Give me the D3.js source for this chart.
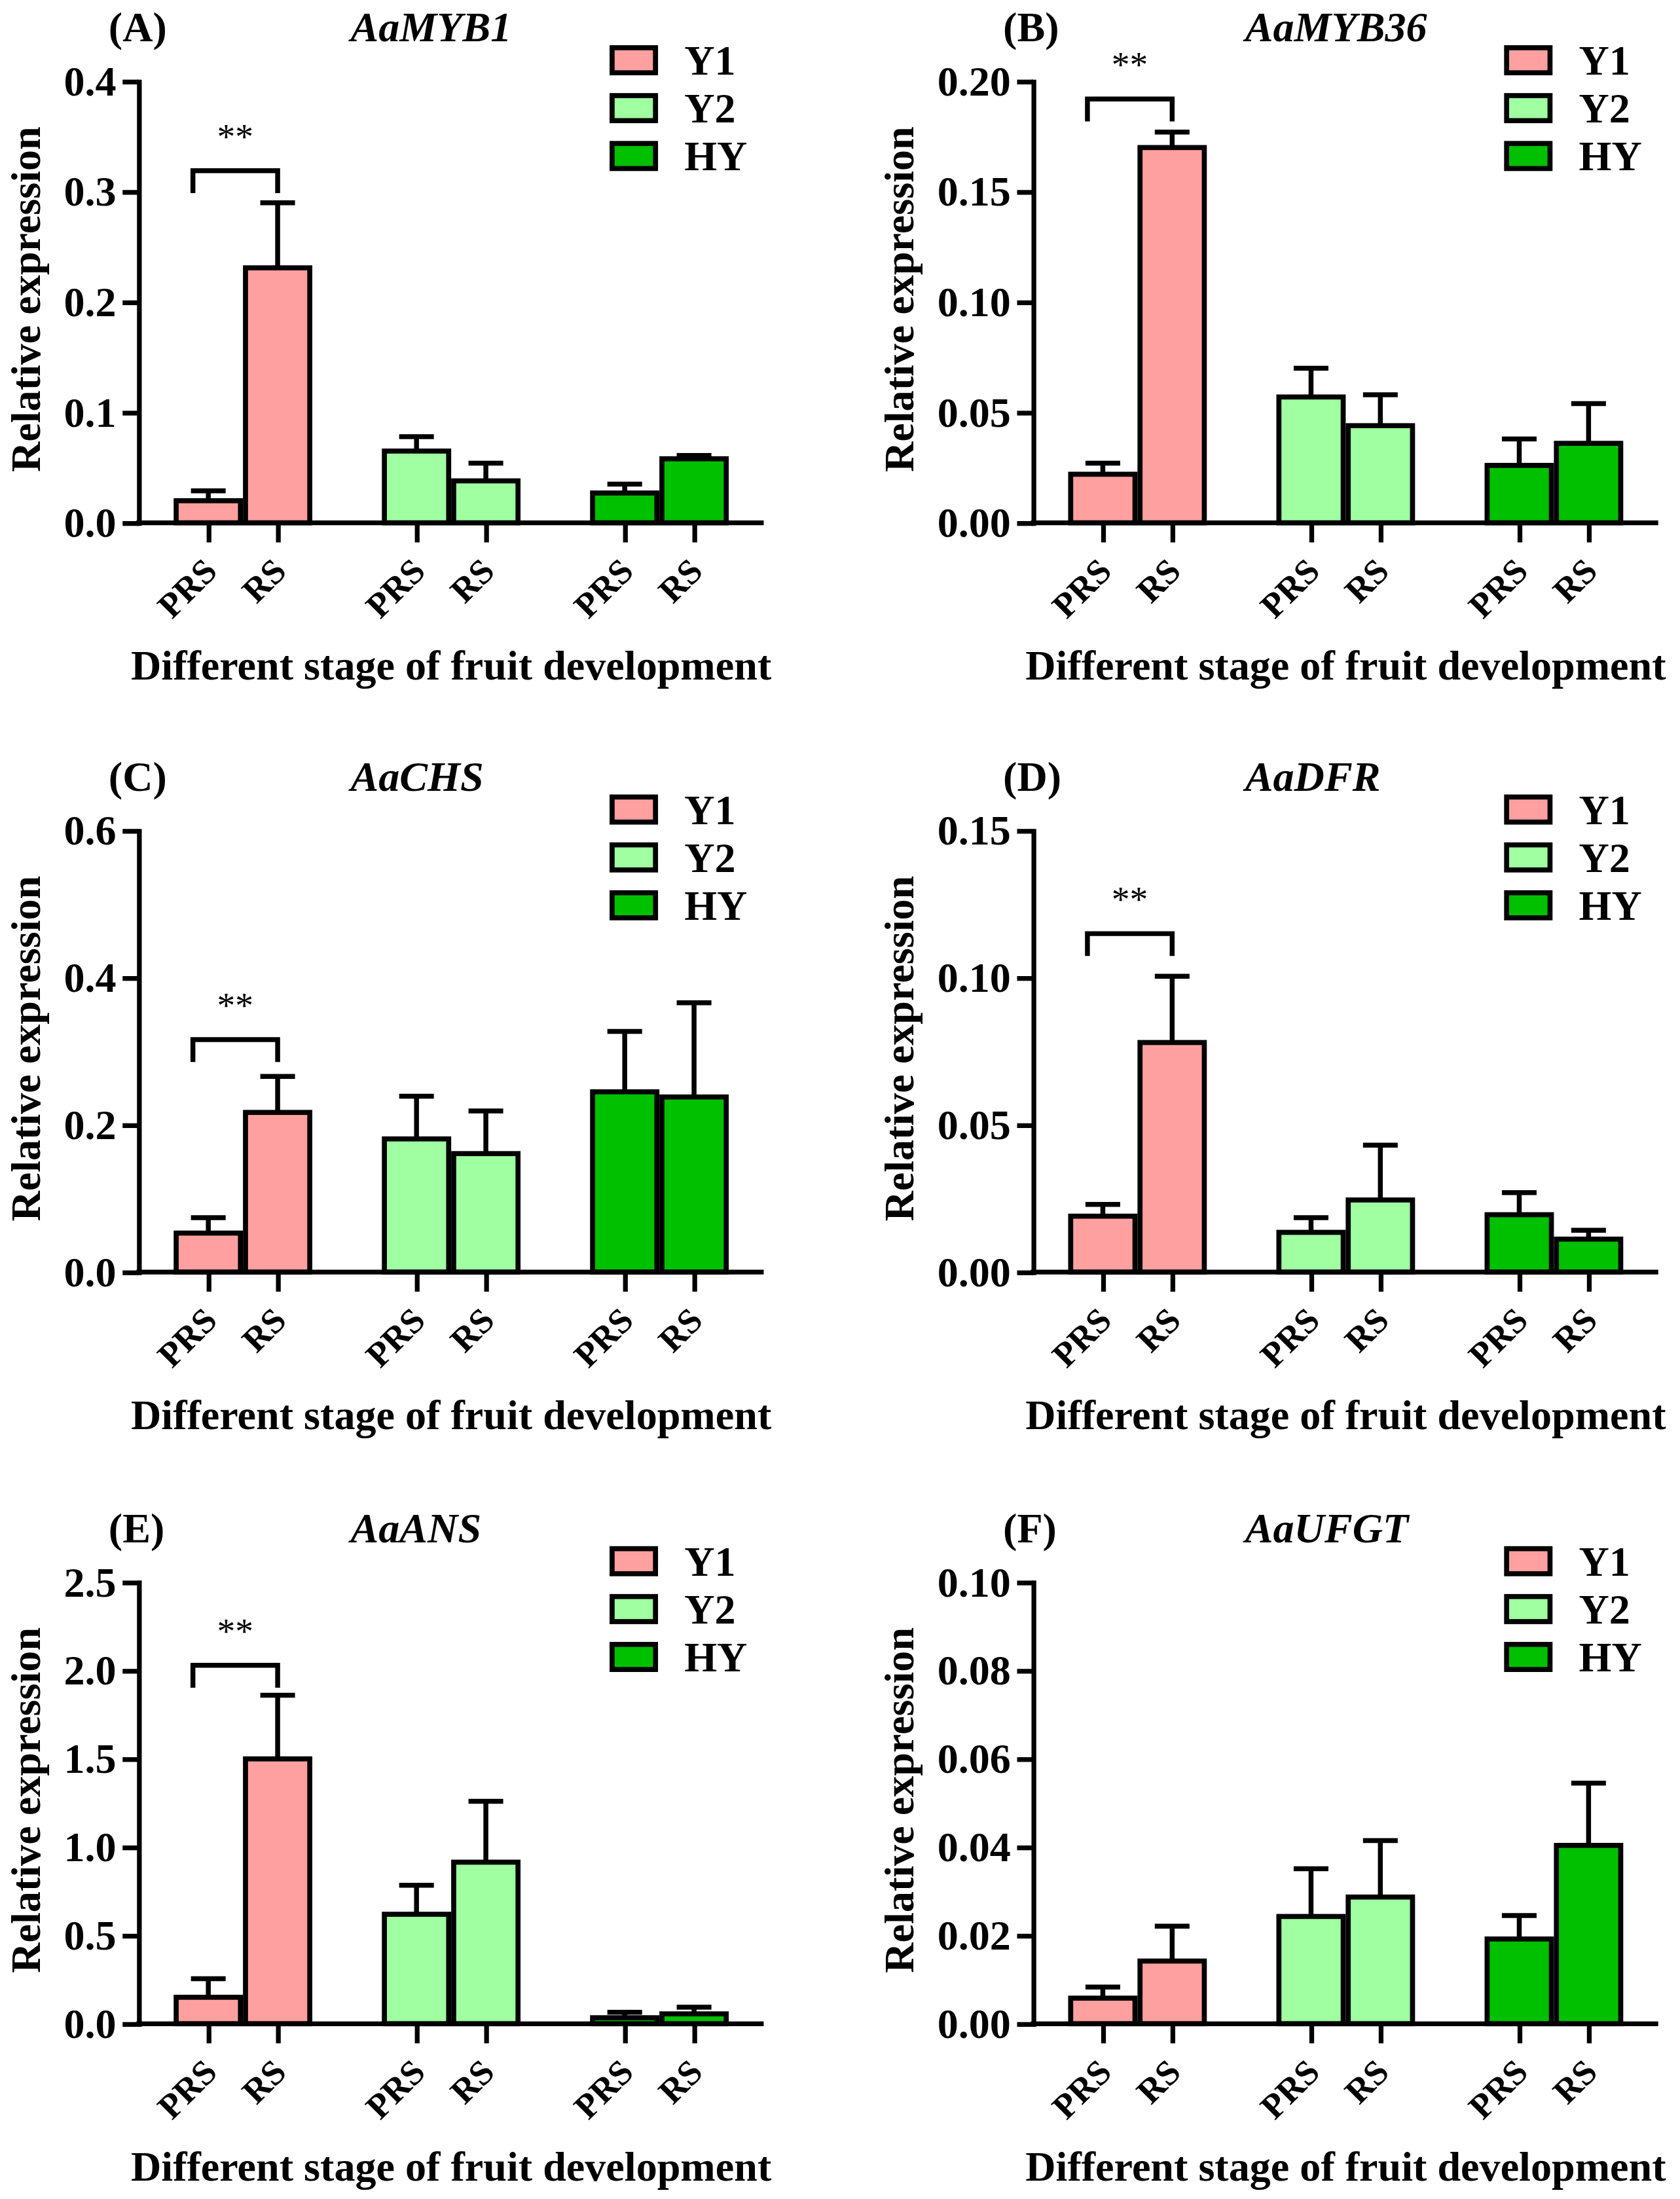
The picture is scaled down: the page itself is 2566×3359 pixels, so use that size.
<!DOCTYPE html>
<html>
<head>
<meta charset="utf-8">
<script src="https://cdn.jsdelivr.net/npm/d3@7"></script>
<style>
  body { margin: 0; background: #fff; }
  svg { display: block; }
</style>
</head>
<body>
<div id="chart"></div>
<script>
// categories
const cultivars = ["Y1", "Y2", "HY"];
const stages = ["PRS", "RS"];
const panelTags = ["(A)", "(B)", "(C)", "(D)", "(E)", "(F)"];
const genes = ["AaMYB1", "AaMYB36", "AaCHS", "AaDFR", "AaANS", "AaUFGT"];

// values, order: Y1-PRS, Y1-RS, Y2-PRS, Y2-RS, HY-PRS, HY-RS
const meanMYB1  = [0.020, 0.231, 0.065, 0.038, 0.027, 0.058];
const sdMYB1    = [0.009, 0.059, 0.013, 0.016, 0.008, 0.003];
const meanMYB36 = [0.022, 0.170, 0.057, 0.044, 0.026, 0.036];
const sdMYB36   = [0.005, 0.007, 0.013, 0.014, 0.012, 0.018];
const meanCHS   = [0.053, 0.217, 0.181, 0.161, 0.245, 0.238];
const sdCHS     = [0.021, 0.049, 0.058, 0.058, 0.082, 0.128];
const meanDFR   = [0.019, 0.078, 0.0135, 0.0245, 0.0195, 0.0112];
const sdDFR     = [0.004, 0.0225, 0.005, 0.0186, 0.0075, 0.003];
const meanANS   = [0.150, 1.500, 0.620, 0.915, 0.034, 0.056];
const sdANS     = [0.105, 0.360, 0.164, 0.345, 0.031, 0.038];
const meanUFGT  = [0.0058, 0.0142, 0.0243, 0.0287, 0.0192, 0.0404];
const sdUFGT    = [0.0025, 0.0079, 0.0108, 0.0128, 0.0053, 0.0141];

// y axes
const yMax = [0.4, 0.2, 0.6, 0.15, 2.5, 0.1];
const yStep = [0.1, 0.05, 0.2, 0.05, 0.5, 0.02];
const yDecimals = [1, 2, 1, 2, 1, 2];

// significance bracket between Y1 PRS and Y1 RS (height in data units)
const sigLevel = [0.319, 0.192, 0.316, 0.115, 2.03, null];
const sigMark = "**";

const means = [meanMYB1, meanMYB36, meanCHS, meanDFR, meanANS, meanUFGT];
const sds = [sdMYB1, sdMYB36, sdCHS, sdDFR, sdANS, sdUFGT];

const colors = {Y1: "#FFA0A0", Y2: "#A0FFA0", HY: "#00C000"};
const serif = '"Liberation Serif", "Times New Roman", serif';

const W = 1200, H = 1571;
const colX = [99, 738];
const rowY = [58.1, 593.4, 1130.4];
const plotW = 446.5, plotH = 315.4;

const svg = d3.select("#chart").append("svg")
    .attr("width", 2566)
    .attr("height", 3359)
    .attr("viewBox", `0 0 ${W} ${H}`)
    .style("background", "#fff");

genes.forEach((gene, i) => {
    const g = svg.append("g")
        .attr("transform", `translate(${colX[i % 2]},${rowY[Math.floor(i / 2)]})`);

    const x0 = d3.scaleBand().domain(cultivars).range([0, plotW])
        .paddingInner(0.334).paddingOuter(0.168);
    const x1 = d3.scaleBand().domain(stages).range([0, x0.bandwidth()]);
    const y = d3.scaleLinear().domain([0, yMax[i]]).range([plotH, 0]);

    const rows = cultivars.flatMap((c, ci) => stages.map((s, si) => ({
        c, s, key: c + "|" + s,
        v: means[i][ci * 2 + si],
        e: sds[i][ci * 2 + si]
    })));
    const cx = d => x0(d.c) + x1(d.s) + x1.bandwidth() / 2;

    //error bars (upper only)
    const eb = g.append("g").attr("stroke", "#000").attr("stroke-width", 3.5);
    eb.selectAll("line.v").data(rows).join("line")
        .attr("x1", cx).attr("x2", cx)
        .attr("y1", d => y(d.v)).attr("y2", d => y(d.v + d.e));
    eb.selectAll("line.cap").data(rows).join("line")
        .attr("x1", d => cx(d) - 12.4).attr("x2", d => cx(d) + 12.4)
        .attr("y1", d => y(d.v + d.e)).attr("y2", d => y(d.v + d.e));

    //bars
    const sw = 3.6;
    g.append("g").selectAll("rect").data(rows).join("rect")
        .attr("x", d => x0(d.c) + x1(d.s) + sw / 2)
        .attr("width", x1.bandwidth() - sw)
        .attr("y", d => y(d.v))
        .attr("height", d => y(0) - y(d.v))
        .attr("fill", d => colors[d.c])
        .attr("stroke", "#000")
        .attr("stroke-width", sw);

    //y axis
    const yAxis = g.append("g")
        .call(d3.axisLeft(y)
            .tickValues(d3.range(0, yMax[i] + yStep[i] / 2, yStep[i]))
            .tickFormat(d3.format(`.${yDecimals[i]}f`))
            .tickSizeInner(11.5).tickSizeOuter(0).tickPadding(4.5))
        .attr("font-family", serif)
        .attr("font-size", 30)
        .attr("font-weight", "bold");
    yAxis.selectAll("path, line").attr("stroke", "#000").attr("stroke-width", 3.4);
    yAxis.select(".domain").attr("stroke-linecap", "square");
    yAxis.selectAll("text").attr("fill", "#000");

    //x axis
    const xPos = d3.scaleOrdinal().domain(rows.map(d => d.key)).range(rows.map(cx));
    const xAxis = g.append("g")
        .attr("transform", `translate(0,${plotH})`)
        .call(d3.axisBottom(xPos).tickSizeInner(14).tickSizeOuter(0)
            .tickFormat(k => k.split("|")[1]))
        .attr("font-family", serif)
        .attr("font-size", 25)
        .attr("font-weight", "bold");
    xAxis.select(".domain").remove();
    xAxis.selectAll("line").attr("stroke", "#000").attr("stroke-width", 3.4);
    xAxis.selectAll("text")
        .attr("fill", "#000")
        .attr("text-anchor", "end")
        .attr("y", null).attr("dy", null)
        .attr("transform", "translate(7,36) rotate(-45)");
    g.append("line")
        .attr("x1", -1.7).attr("x2", plotW)
        .attr("y1", plotH).attr("y2", plotH)
        .attr("stroke", "#000").attr("stroke-width", 3.4);

    //significance bracket
    if (sigLevel[i] != null) {
        const bx1 = cx(rows[0]) - 11, bx2 = cx(rows[1]), by = y(sigLevel[i]);
        g.append("path")
            .attr("d", `M${bx1},${by + 16}V${by}H${bx2}V${by + 16}`)
            .attr("fill", "none").attr("stroke", "#000").attr("stroke-width", 3.5);
        g.append("text")
            .attr("x", (bx1 + bx2) / 2).attr("y", by - 16)
            .attr("text-anchor", "middle")
            .attr("font-family", serif).attr("font-size", 26)
            .text(sigMark);
    }

    //legend
    const leg = g.append("g").attr("transform", "translate(336.4,-25.8)");
    cultivars.forEach((c, k) => {
        leg.append("rect")
            .attr("x", 1.8).attr("y", 34.2 * k + 1.8)
            .attr("width", 31).attr("height", 17.9)
            .attr("fill", colors[c]).attr("stroke", "#000").attr("stroke-width", 3.6);
        leg.append("text")
            .attr("x", 53.4).attr("y", 34.2 * k + 21)
            .attr("font-family", serif).attr("font-size", 30).attr("font-weight", "bold")
            .text(c);
    });

    //titles
    g.append("text")
        .attr("x", -21.5).attr("y", -28.6)
        .attr("font-family", serif).attr("font-size", 30).attr("font-weight", "bold")
        .text(panelTags[i]);
    g.append("text")
        .attr("x", 151.4).attr("y", -28.6)
        .attr("font-family", serif).attr("font-size", 30).attr("font-weight", "bold")
        .attr("font-style", "italic")
        .text(gene);

    //axis labels
    g.append("text")
        .attr("x", plotW / 2).attr("y", plotH + 112)
        .attr("text-anchor", "middle")
        .attr("font-family", serif).attr("font-size", 30).attr("font-weight", "bold")
        .text("Different stage of fruit development");

    const lx = yAxis.node().getBBox().x - 17;
    g.append("text")
        .attr("transform", `translate(${lx},${plotH / 2 - 2}) rotate(-90)`)
        .attr("text-anchor", "middle")
        .attr("font-family", serif).attr("font-size", 30).attr("font-weight", "bold")
        .text("Relative expression");
});
</script>
</body>
</html>
